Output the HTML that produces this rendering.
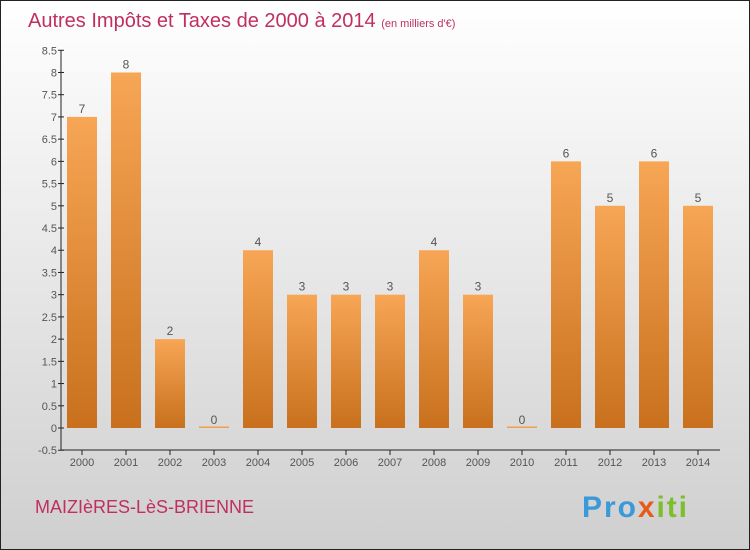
<!DOCTYPE html>
<html><head><meta charset="utf-8"><style>
body{margin:0}
#c{width:750px;height:550px;position:relative;box-sizing:border-box;border:1px solid #222;background:linear-gradient(#ffffff,#cfcfcf);font-family:"Liberation Sans",sans-serif;overflow:hidden}
</style></head><body>
<div id="c">
<svg id="s" width="750" height="550" style="position:absolute;left:-1px;top:-1px">
<defs><linearGradient id="g" x1="0" y1="0" x2="0" y2="1"><stop offset="0" stop-color="#f7a655"/><stop offset="1" stop-color="#c8701d"/></linearGradient></defs>
<text x="28" y="27" font-size="20" fill="#c0305e">Autres Impôts et Taxes de 2000 à 2014 <tspan font-size="11">(en milliers d'€)</tspan></text>
<text x="35" y="513" font-size="18" fill="#c0305e">MAIZIèRES-LèS-BRIENNE</text>
<text x="582" y="517" font-size="30" font-weight="bold" fill="#3a9ad9" textLength="105">Pro<tspan fill="#e85a1a">x</tspan><tspan fill="#7cbf2a">iti</tspan></text>
</svg>
</div>
<script>
const years=["2000","2001","2002","2003","2004","2005","2006","2007","2008","2009","2010","2011","2012","2013","2014"];
const values=[7,8,2,0,4,3,3,3,4,3,0,6,5,6,5];
const yTicks=[-0.5,0,0.5,1,1.5,2,2.5,3,3.5,4,4.5,5,5.5,6,6.5,7,7.5,8,8.5];
const yTickLabels=["-0.5","0","0.5","1","1.5","2","2.5","3","3.5","4","4.5","5","5.5","6","6.5","7","7.5","8","8.5"];
const s=document.getElementById('s');
const NS="http://www.w3.org/2000/svg";
const y=v=>428-(v)*44.44;
const x=i=>82+i*44;
function mk(t,a,txt){const e=document.createElementNS(NS,t);for(const k in a)e.setAttribute(k,a[k]);if(txt!=null)e.textContent=txt;s.appendChild(e);return e;}
let ax=mk('line',{x1:61,y1:50,x2:61,y2:450,stroke:'#222','stroke-width':1});


let bx=mk('line',{x1:61,y1:450,x2:720,y2:450,stroke:'#222','stroke-width':1});


yTicks.forEach((v,i)=>{
 const t=mk('line',{x1:58,y1:y(v),x2:64,y2:y(v),stroke:'#222'});
 
 
 const l=mk('text',{x:57,y:y(v)+4,'font-size':11,'text-anchor':'end',fill:'#555'},yTickLabels[i]);
 
 
});
years.forEach((yr,i)=>{
 const v=values[i];
 const t=mk('line',{x1:x(i),y1:450,x2:x(i),y2:455,stroke:'#222'});
 
 
 const l=mk('text',{x:x(i),y:466,'font-size':11,'text-anchor':'middle',fill:'#555'},yr);
 
 
 const h=Math.max(y(0)-y(v),1.5);
 const b=mk('rect',{x:x(i)-15,y:y(0)-h,width:30,height:h,fill:v?'url(#g)':'#f0a050'});
 
 
 const vl=mk('text',{x:x(i),y:y(v)-4,'font-size':12,'text-anchor':'middle',fill:'#555'},String(v));
 
 
});
</script>
</body></html>
